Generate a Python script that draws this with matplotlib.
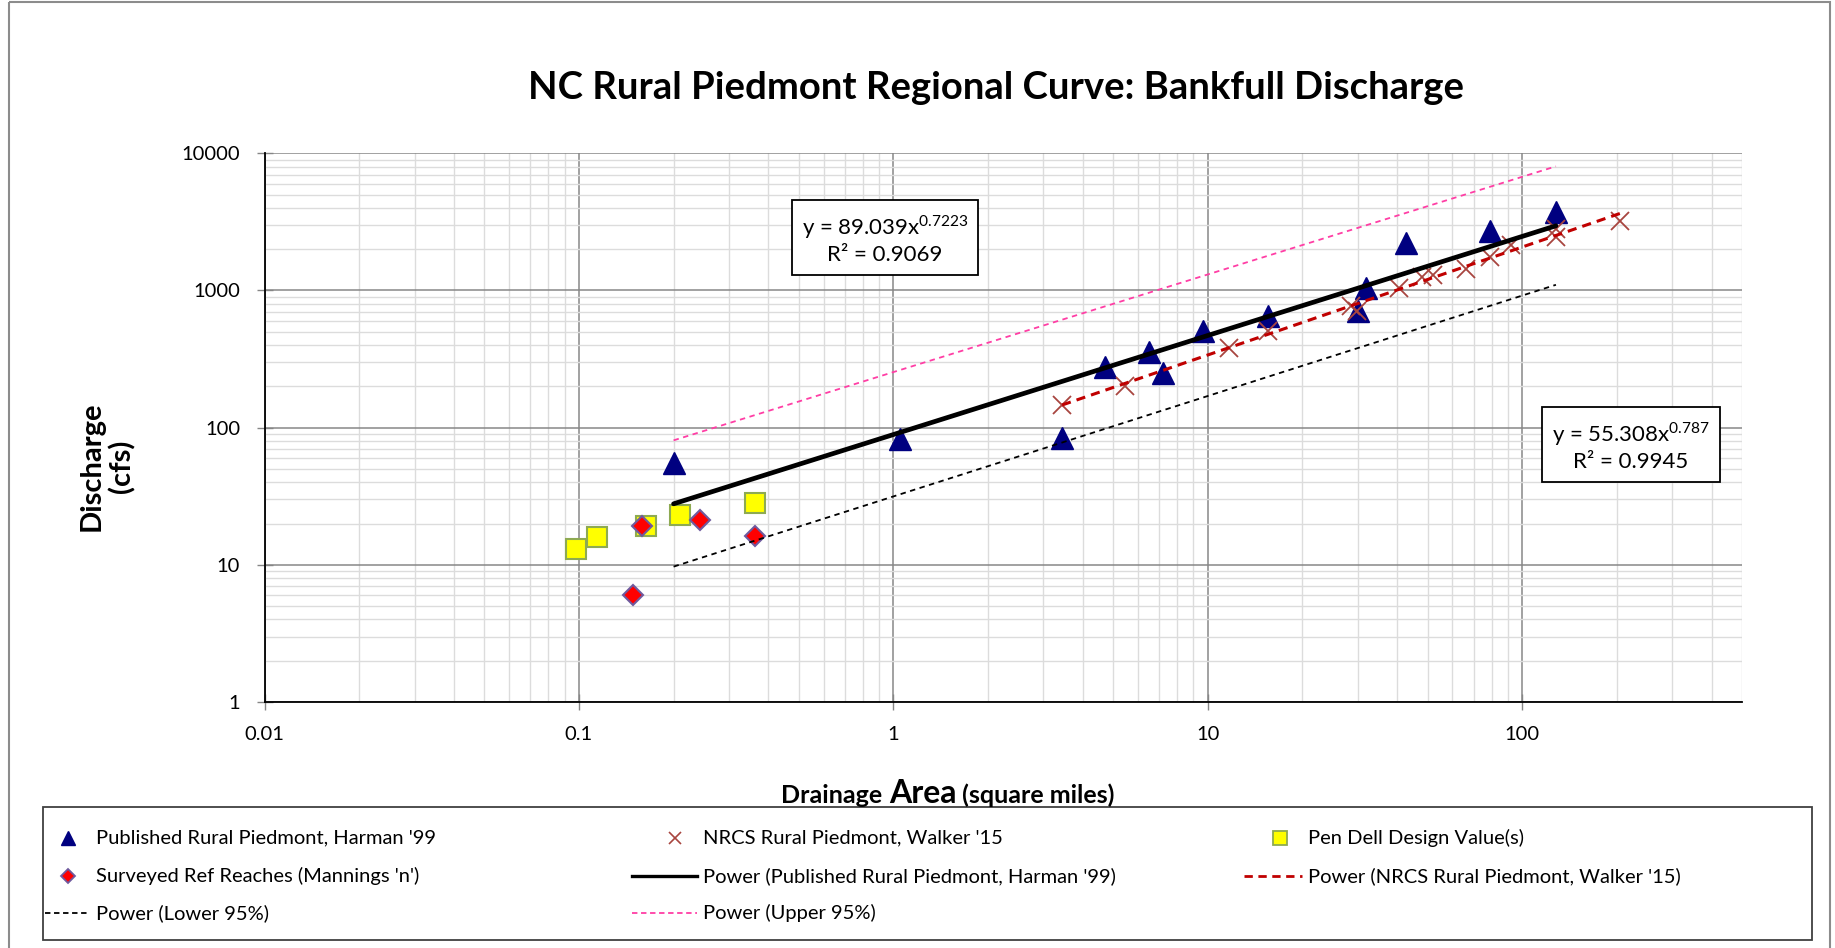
import numpy as np
import matplotlib.pyplot as plt
from matplotlib.ticker import FixedLocator, FixedFormatter, LogLocator, NullFormatter
from matplotlib.patches import Rectangle

plt.rcParams['font.family'] = ['Lato', 'DejaVu Sans']
plt.rcParams['mathtext.fontset'] = 'custom'
plt.rcParams['mathtext.rm'] = 'Lato'

# Published rural piedmont curve data (Harman 1999)
harman_area = [0.2, 1.05, 3.44, 4.70, 6.51, 7.20, 9.64, 15.5, 30.0, 31.9, 42.8, 78.7, 128]
harman_q = [55, 82, 84, 275, 356, 251, 506, 650, 709, 1040, 2230, 2700, 3740]

# NRCS rural piedmont data (Walker 2015)
nrcs_area = [3.44, 5.45, 11.7, 15.5, 28.5, 29.8, 40.5, 48, 52, 66.4, 78.9, 91.8, 128, 128, 205]
nrcs_q = [147, 202, 378, 506, 770, 705, 1040, 1245, 1294, 1432, 1741, 2142, 2460, 2800, 3226]

# Pen Dell design values
pen_area = [0.098, 0.114, 0.163, 0.209, 0.363]
pen_q = [13.0, 15.9, 19.1, 22.9, 28.0]

# Surveyed reference reaches (Manning's n)
surv_area = [0.149, 0.159, 0.243, 0.362]
surv_q = [6.0, 19.1, 21.1, 16.2]

# 95% bounds around the Harman curve
lower_area = [0.2, 128]
lower_q = [9.7, 1100]
upper_area = [0.2, 128]
upper_q = [80.8, 8035]

# power trendline coefficients
harman_a, harman_b, harman_r2 = 89.039, 0.7223, 0.9069
nrcs_a, nrcs_b, nrcs_r2 = 55.308, 0.787, 0.9945

x_ticks = [0.01, 0.1, 1, 10, 100]
x_tick_labels = ['0.01', '0.1', '1', '10', '100']
y_ticks = [1, 10, 100, 1000, 10000]
y_tick_labels = ['1', '10', '100', '1000', '10000']

W, H = 1835, 948
fig = plt.figure(figsize=(W / 100, H / 100), dpi=100)
ax = fig.add_axes([264.5 / W, (H - 702) / H, (1742 - 264.5) / W, (702 - 153.3) / H])

ax.set_xscale('log')
ax.set_yscale('log')
ax.set_xlim(0.01, 500)
ax.set_ylim(1, 10000)

navy = '#000080'
cross_col = '#A8453F'
ax.plot(harman_area, harman_q, '^', ms=16, color=navy, zorder=3)
ax.plot(nrcs_area, nrcs_q, 'x', ms=13, mew=1.3, color=cross_col, zorder=4)
ax.plot(pen_area, pen_q, 's', ms=15, mfc='#FFFF00', mec='#8EAA52', mew=1.5, zorder=5)
ax.plot(surv_area, surv_q, 'D', ms=10, mfc='#FF0000', mec='#6F5A9E', mew=1.5, zorder=6)

# power trendlines
xh = np.geomspace(min(harman_area), max(harman_area), 60)
ax.plot(xh, harman_a * xh ** harman_b, color='black', lw=3.4, solid_capstyle='round', zorder=7)
xn = np.geomspace(min(nrcs_area), max(nrcs_area), 60)
ax.plot(xn, nrcs_a * xn ** nrcs_b, color='#C00000', lw=2.2, ls=(0, (3, 2)), zorder=7)
ax.plot(lower_area, lower_q, color='black', lw=1.3, ls=(0, (3, 2.5)), zorder=7)
ax.plot(upper_area, upper_q, color='#FF3EA5', lw=1.3, ls=(0, (3, 2.5)), zorder=7)

ax.xaxis.set_major_locator(FixedLocator(x_ticks))
ax.xaxis.set_major_formatter(FixedFormatter(x_tick_labels))
ax.yaxis.set_major_locator(FixedLocator(y_ticks))
ax.yaxis.set_major_formatter(FixedFormatter(y_tick_labels))
for axis in (ax.xaxis, ax.yaxis):
    axis.set_minor_locator(LogLocator(base=10, subs=np.arange(2, 10), numticks=30))
    axis.set_minor_formatter(NullFormatter())

ax.grid(which='major', color='#878787', lw=1.1)
ax.grid(which='minor', color='#DCDCDC', lw=1.0)
ax.set_axisbelow(True)
ax.tick_params(which='major', direction='inout', length=11, width=1, color='#868686',
               labelsize=14.5, pad=12, labelcolor='black')
ax.tick_params(which='minor', length=0)
for s in ('top', 'right'):
    ax.spines[s].set_visible(False)
for s in ('left', 'bottom'):
    ax.spines[s].set_color('black')
    ax.spines[s].set_linewidth(1.3)

# overlay in pixel coordinates for title, labels, boxes and legend
ov = fig.add_axes([0, 0, 1, 1], zorder=5)
ov.set_xlim(0, W)
ov.set_ylim(H, 0)
ov.axis('off')

ov.add_patch(Rectangle((9, 2), 1821, 980, fill=False, ec='#8C8C8C', lw=1.5, clip_on=False))

ov.text(996, 88, 'NC Rural Piedmont Regional Curve: Bankfull Discharge',
        ha='center', va='center', fontsize=27.5, fontweight='bold')

ov.text(107, 466, 'Discharge\n(cfs)', rotation=90, ha='center', va='center',
        fontsize=21, fontweight='bold', linespacing=1.15)

# x label with the larger "Area"
renderer = fig.canvas.get_renderer()
parts = [('Drainage ', 18), ('Area', 23), (' (square miles)', 18)]
pieces = [ov.text(0, 803, s, fontsize=fs, fontweight='bold', ha='left', va='baseline')
          for s, fs in parts]
widths = [p.get_window_extent(renderer).width for p in pieces]
x0 = 948 - sum(widths) / 2
for p, w in zip(pieces, widths):
    p.set_x(x0)
    x0 += w

box = dict(boxstyle='square,pad=0.45', fc='white', ec='black', lw=1.3)
ov.text(885, 239, f'y = {harman_a}x$^{{\\mathrm{{{harman_b}}}}}$\nR² = {harman_r2}',
        ha='center', va='center', multialignment='center', fontsize=16, linespacing=1.3, bbox=box)
ov.text(1631, 446, f'y = {nrcs_a}x$^{{\\mathrm{{{nrcs_b}}}}}$\nR² = {nrcs_r2}',
        ha='center', va='center', multialignment='center', fontsize=16, linespacing=1.3, bbox=box)

# legend
ov.add_patch(Rectangle((43, 807), 1769, 133, fill=False, ec='#404040', lw=1.3))
rows = [838, 876, 913]
cols = [(45, 96), (632, 703), (1244, 1308)]
entries = [
    (0, 0, 'marker', dict(marker='^', ms=10, color=navy), "Published Rural Piedmont, Harman '99"),
    (1, 0, 'marker', dict(marker='x', ms=9, mew=1.2, color=cross_col), "NRCS Rural Piedmont, Walker '15"),
    (2, 0, 'marker', dict(marker='s', ms=10, mfc='#FFFF00', mec='#8EAA52', mew=1.3), 'Pen Dell Design Value(s)'),
    (0, 1, 'marker', dict(marker='D', ms=7.5, mfc='#FF0000', mec='#6F5A9E', mew=1.3), "Surveyed Ref Reaches (Mannings 'n')"),
    (1, 1, 'line', dict(color='black', lw=2.4), "Power (Published Rural Piedmont, Harman '99)"),
    (2, 1, 'line', dict(color='#C00000', lw=2.0, ls=(0, (3, 2))), "Power (NRCS Rural Piedmont, Walker '15)"),
    (0, 2, 'line', dict(color='black', lw=1.3, ls=(0, (3, 2))), 'Power (Lower 95%)'),
    (1, 2, 'line', dict(color='#FF3EA5', lw=1.3, ls=(0, (3, 2))), 'Power (Upper 95%)'),
]
for c, r, kind, style, label in entries:
    xs, xt = cols[c]
    y = rows[r]
    if kind == 'marker':
        ov.plot([xt - 28], [y], ls='none', **style)
    else:
        ov.plot([xs, xt - 6], [y, y], **style)
    ov.text(xt, y, label, ha='left', va='center', fontsize=14.5)

fig.savefig('out.png', dpi=100)
